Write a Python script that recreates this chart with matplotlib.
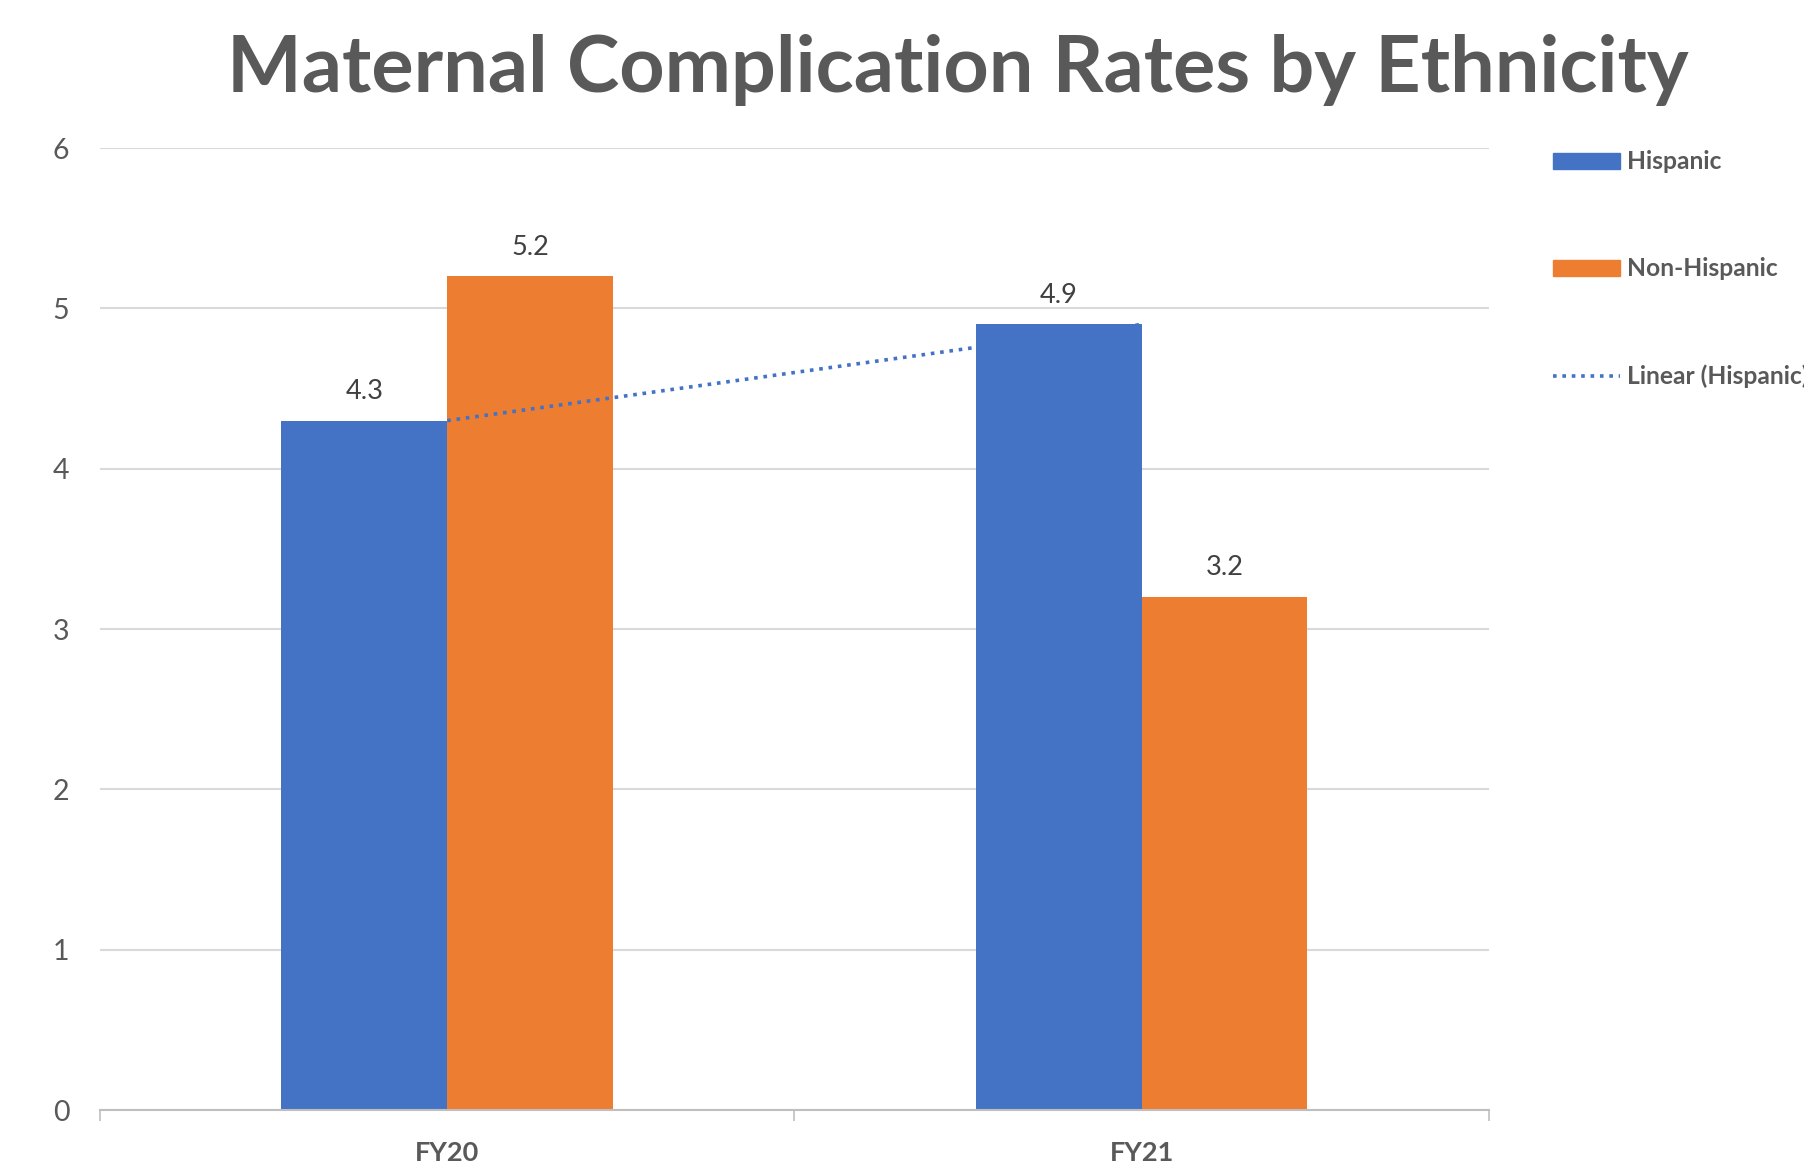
import numpy as np
import matplotlib.pyplot as plt
from matplotlib.patches import Patch
from matplotlib.lines import Line2D

plt.rcParams['font.family'] = ['Lato', 'DejaVu Sans']

years = ['FY20', 'FY21']
hispanic = [4.3, 4.9]
non_hispanic = [5.2, 3.2]

blue = '#4472C4'
orange = '#ED7D31'
grey = '#595959'

fig = plt.figure(figsize=(18.04, 11.75), dpi=100)
ax = fig.add_axes([0.0554, 0.0553, 0.7700, 0.8187])

x = np.arange(len(years))
w = 0.2386
b1 = ax.bar(x - w / 2, hispanic, w, color=blue, zorder=2)
b2 = ax.bar(x + w / 2, non_hispanic, w, color=orange, zorder=2)

# linear trend through the Hispanic series
k, c = np.polyfit(x, hispanic, 1)
ax.plot(x, k * x + c, color=blue, lw=2.6, ls=(0, (1, 1.6)), zorder=3)

for bars, vals in ((b1, hispanic), (b2, non_hispanic)):
    for r, v in zip(bars, vals):
        ax.annotate(f'{v}', (r.get_x() + r.get_width() / 2, v),
                    xytext=(0, 12), textcoords='offset points',
                    ha='center', va='bottom', fontsize=19.5, color='#404040')

ax.set_xlim(-0.5, 1.5)
ax.set_ylim(0, 6)
ax.set_yticks(range(7))
ax.set_xticks(x)
ax.set_xticklabels(years, fontsize=19.5, fontweight='bold', color=grey)
ax.set_xticks([-0.5, 0.5, 1.5], minor=True)
ax.tick_params(axis='x', which='major', length=0, pad=22)
ax.tick_params(axis='x', which='minor', length=8, width=1.2, color='#BFBFBF')
ax.tick_params(axis='y', length=0, labelsize=20.5, labelcolor=grey, pad=22)
ax.grid(axis='y', color='#D9D9D9', lw=1.5, zorder=0)
ax.set_axisbelow(True)
for s in ('top', 'right', 'left'):
    ax.spines[s].set_visible(False)
ax.spines['bottom'].set_color('#BFBFBF')
ax.spines['bottom'].set_linewidth(1.5)

fig.text(0.531, 0.940, 'Maternal Complication Rates by Ethnicity',
         ha='center', va='center', fontsize=57, fontweight='bold', color=grey)

handles = [Patch(color=blue), Patch(color=orange),
           Line2D([], [], color=blue, lw=2.6, ls=(0, (1, 1.6)))]
labels = ['Hispanic', 'Non-Hispanic', 'Linear (Hispanic)']
fig.legend(handles, labels, loc='upper left', bbox_to_anchor=(0.861, 0.872),
           frameon=False, labelspacing=3.42, handlelength=2.7,
           handleheight=0.6, handletextpad=0.3, borderaxespad=0, borderpad=0,
           prop={'weight': 'bold', 'size': 17.7})
for t in fig.legends[0].get_texts():
    t.set_color(grey)

fig.savefig('out.png', dpi=100)
